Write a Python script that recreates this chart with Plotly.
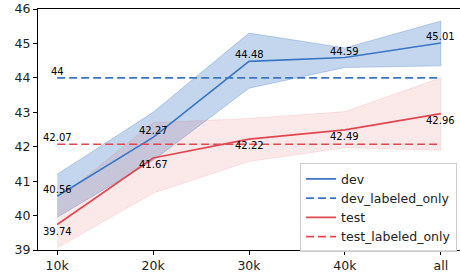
import plotly.graph_objects as go

categories = ["10k", "20k", "30k", "40k", "all"]
dev = [40.56, 42.27, 44.48, 44.59, 45.01]
dev_upper = [41.2, 43.0, 45.3, 44.87, 45.65]
dev_lower = [39.95, 41.6, 43.7, 44.3, 44.35]
test = [39.74, 41.67, 42.22, 42.49, 42.96]
test_upper = [40.45, 42.7, 42.82, 43.02, 44.0]
test_lower = [39.06, 40.65, 41.57, 41.97, 41.9]
dev_labeled_only = 44.0
test_labeled_only = 42.07
y_ticks = [39, 40, 41, 42, 43, 44, 45, 46]

BLUE = "#3a76c4"
RED = "#e0474f"
FONT = "DejaVu Sans"

fig = go.Figure()

# bands
fig.add_trace(go.Scatter(x=categories + categories[::-1], y=dev_upper + dev_lower[::-1],
                         mode="lines", fill="toself", fillcolor="rgba(58,118,196,0.3)",
                         line=dict(color="rgba(58,118,196,0.3)", width=1),
                         showlegend=False, hoverinfo="skip"))
fig.add_trace(go.Scatter(x=categories + categories[::-1], y=test_upper + test_lower[::-1],
                         mode="lines", fill="toself", fillcolor="rgba(224,71,79,0.12)",
                         line=dict(color="rgba(224,71,79,0.12)", width=1),
                         showlegend=False, hoverinfo="skip"))

fig.add_trace(go.Scatter(x=categories, y=dev, mode="lines", name="dev",
                         line=dict(color=BLUE, width=1.6)))
fig.add_trace(go.Scatter(x=categories, y=[dev_labeled_only] * len(categories), mode="lines",
                         name="dev_labeled_only",
                         line=dict(color=BLUE, width=1.6, dash="8px,4px")))
fig.add_trace(go.Scatter(x=categories, y=test, mode="lines", name="test",
                         line=dict(color=RED, width=1.6)))
fig.add_trace(go.Scatter(x=categories, y=[test_labeled_only] * len(categories), mode="lines",
                         name="test_labeled_only",
                         line=dict(color=RED, width=1.6, dash="8px,4px")))

ann = []
for c, v in zip(categories, dev):
    ann.append(dict(x=c, y=v, text=f"{v:.2f}", yanchor="bottom", yshift=-1))
for c, v in zip(categories, test):
    ann.append(dict(x=c, y=v, text=f"{v:.2f}", yanchor="top", yshift=1))
ann.append(dict(x=categories[0], y=dev_labeled_only, text=f"{dev_labeled_only:g}", yanchor="bottom", yshift=-1))
ann.append(dict(x=categories[0], y=test_labeled_only, text=f"{test_labeled_only:.2f}", yanchor="bottom", yshift=-1))
for a in ann:
    a.update(showarrow=False, xanchor="center", font=dict(family=FONT, size=10, color="black"))

fig.update_layout(
    width=460, height=273,
    margin=dict(l=38, r=0, t=9, b=23),
    plot_bgcolor="white", paper_bgcolor="white",
    font=dict(family=FONT, size=12.5, color="#222"),
    annotations=ann,
    showlegend=True,
    legend=dict(x=0.621, y=0.36, xanchor="left", yanchor="top",
                bgcolor="rgba(255,255,255,0.85)", bordercolor="#cccccc", borderwidth=1,
                font=dict(family=FONT, size=12.5, color="#222"),
                traceorder="normal", itemwidth=30),
)
fig.update_xaxes(type="category", range=[-0.2, 4.2], showline=True, linecolor="black", linewidth=1,
                 mirror=True, ticks="outside", ticklen=4, tickcolor="black", showgrid=False,
                 zeroline=False, tickfont=dict(family=FONT, size=12.5, color="#222"))
fig.update_yaxes(range=[39, 46], tickvals=y_ticks, showline=True, linecolor="black", linewidth=1,
                 ticks="outside", ticklen=4, tickcolor="black", showgrid=False, zeroline=False,
                 tickfont=dict(family=FONT, size=12.5, color="#222"))

fig.write_html("out.html", config={"displayModeBar": False},
               post_script="document.body.style.margin='0';")
